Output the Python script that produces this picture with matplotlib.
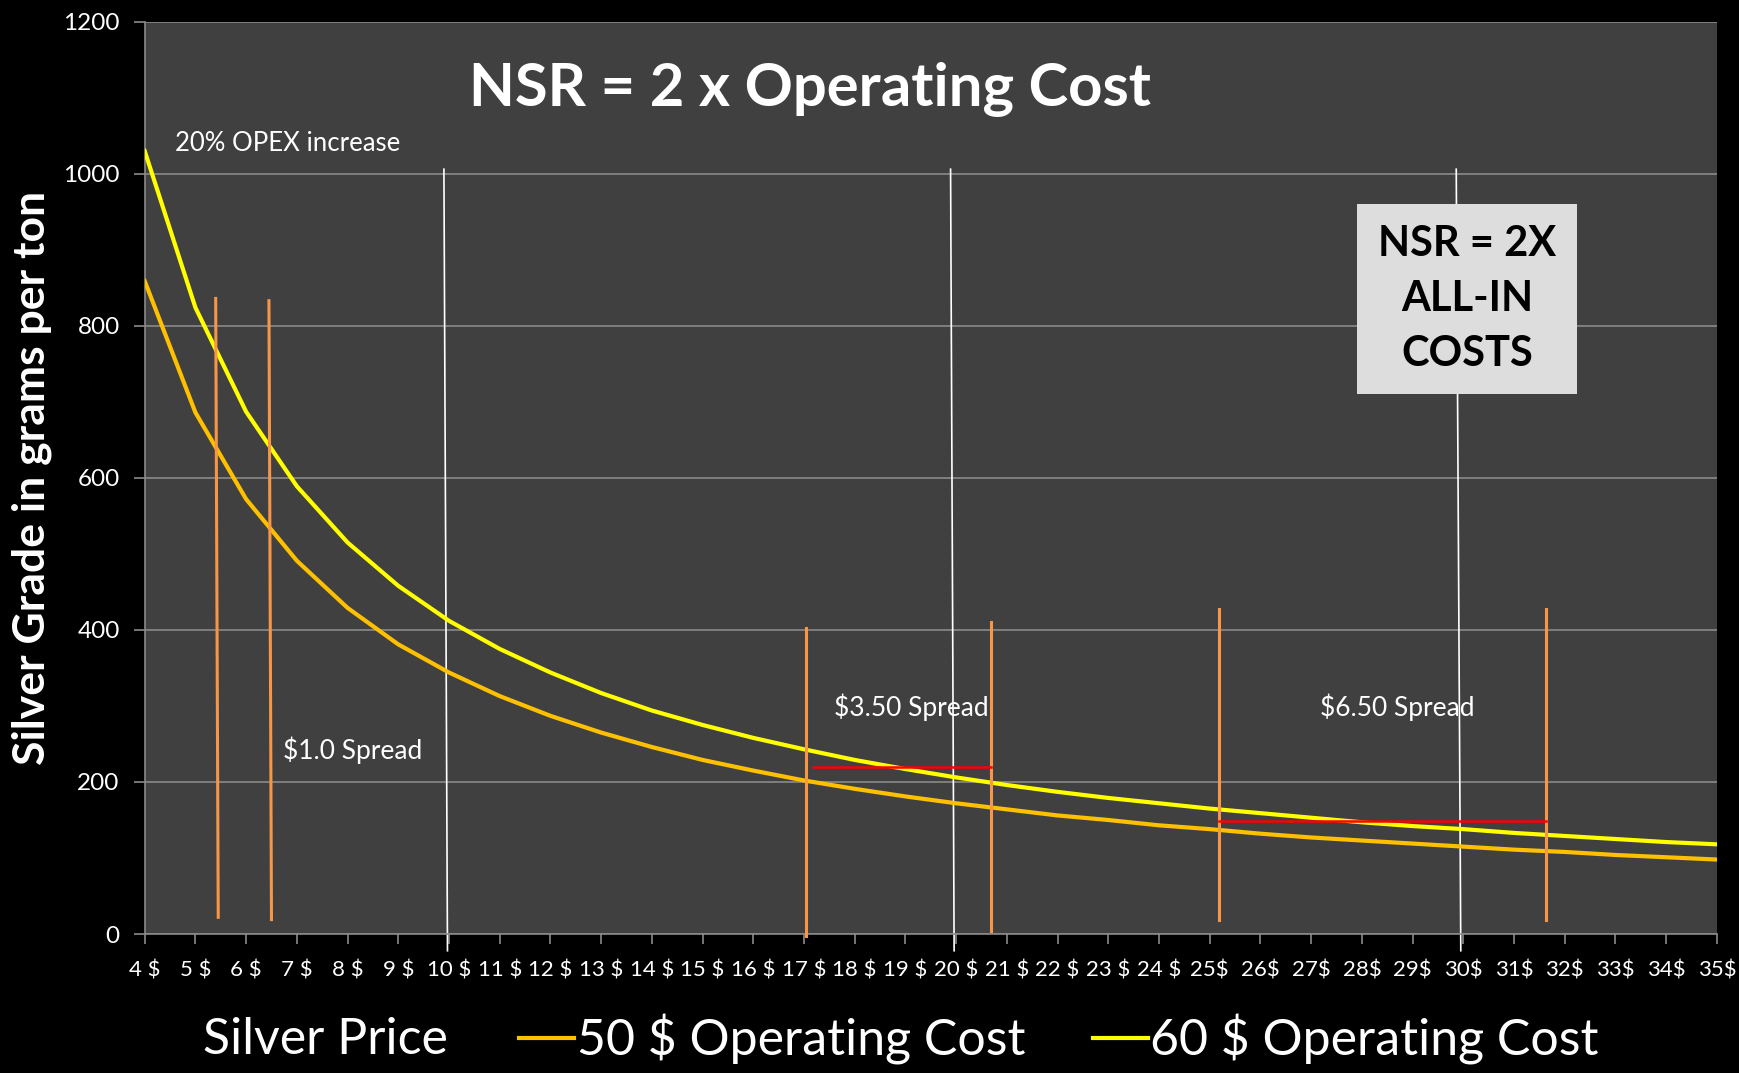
import matplotlib
matplotlib.use("Agg")
import matplotlib.pyplot as plt

plt.rcParams['font.family'] = ['Lato', 'DejaVu Sans']

# Silver price categories (x axis)
prices = list(range(4, 36))
price_labels = [f"{p} $" for p in range(4, 25)] + [f"{p}$" for p in range(25, 36)]

# grade (g/t) needed for NSR = 2 x operating cost
grade_50 = [859, 686, 572, 491, 429, 381, 344, 313, 287, 265, 246, 229, 215,
            202, 191, 181, 172, 164, 156, 150, 143, 138, 132, 127, 123, 119,
            115, 111, 108, 104, 101, 98]
grade_60 = [1030, 824, 687, 589, 515, 458, 412, 375, 344, 317, 294, 275, 258,
            243, 229, 217, 206, 196, 187, 179, 172, 165, 159, 153, 147, 142,
            138, 133, 129, 125, 121, 118]

# annotation lines drawn on the chart
white_x_top = [9.90, 19.89, 29.86]
white_x_bot = [9.97, 19.96, 29.95]
spread_x_top = [5.40, 6.45, 17.03, 20.68, 25.18, 31.63]
spread_x_bot = [5.45, 6.50, 17.03, 20.68, 25.18, 31.63]
spread_top = [836, 833, 403, 411, 427, 427]
spread_bot = [22, 19, -3, 4, 19, 19]
red_x0 = [17.18, 25.18]
red_x1 = [20.68, 31.63]
red_y = [220, 149]

fig = plt.figure(figsize=(17.39, 10.73), dpi=100, facecolor='black')
ax = fig.add_axes([0.0832, 0.1295, 0.9041, 0.8503])
ax.set_facecolor('#404040')

ax.set_xlim(4, 35)
ax.set_ylim(0, 1200)
ax.set_yticks(range(0, 1201, 200))
ax.grid(axis='y', color='#8a8a8a', linewidth=1.2)
ax.set_axisbelow(True)

for xt, xb in zip(white_x_top, white_x_bot):
    ax.plot([xt, xb], [1006, -22], color='white', lw=1.2, clip_on=False, zorder=2)

ax.plot(prices, grade_50, color='#FFC000', lw=3, label='50 $ Operating Cost', zorder=3)
ax.plot(prices, grade_60, color='#FFFF00', lw=3, label='60 $ Operating Cost', zorder=3)

for xt, xb, yt, yb in zip(spread_x_top, spread_x_bot, spread_top, spread_bot):
    ax.plot([xt, xb], [yt, yb], color='#F79646', lw=2.2, zorder=4, clip_on=False)
for x0, x1, y in zip(red_x0, red_x1, red_y):
    ax.plot([x0, x1], [y, y], color='#FF0000', lw=1.8, zorder=4)

ax.set_xticks(prices)
ax.set_xticklabels(price_labels)
ax.tick_params(axis='x', colors='#8a8a8a', labelcolor='white', labelsize=16,
               length=7, width=1.2, pad=12)
ax.tick_params(axis='y', colors='#8a8a8a', labelcolor='white', labelsize=17.5,
               length=8, width=1.2, pad=10)
for s in ['top', 'right']:
    ax.spines[s].set_visible(False)
for s in ['left', 'bottom']:
    ax.spines[s].set_color('#8a8a8a')
    ax.spines[s].set_linewidth(1.2)

ax.set_ylabel('Silver Grade in grams per ton', color='white', fontsize=32,
              fontweight='bold', labelpad=8)

ax.text(17.12, 1111, 'NSR = 2 x Operating Cost', color='white', fontsize=43,
        fontweight='bold', ha='center', va='center')
ax.text(4.59, 1040, '20% OPEX increase', color='white', fontsize=18.5, va='center')
ax.text(6.73, 242, '$1.0 Spread', color='white', fontsize=19, va='center')
ax.text(17.6, 298, '$3.50 Spread', color='white', fontsize=19, va='center')
ax.text(27.17, 298, '$6.50 Spread', color='white', fontsize=19, va='center')
ax.text(30.07, 835, 'NSR = 2X\nALL-IN\nCOSTS', color='black', fontsize=30,
        fontweight='bold', ha='center', va='center', linespacing=1.55,
        bbox=dict(boxstyle='square,pad=0.5', fc='#DDDDDD', ec='none'), zorder=5)

fig.text(0.117, 0.031, 'Silver Price', color='white', fontsize=36, va='center')
leg = fig.legend(loc='center left', bbox_to_anchor=(0.2985, 0.031), ncol=2,
                 frameon=False, fontsize=36, handlelength=1.1, borderpad=0,
                 borderaxespad=0, handletextpad=0.05, columnspacing=1.35,
                 labelcolor='white')
for h in leg.get_lines():
    h.set_linewidth(3)

fig.savefig('out.png', dpi=100, facecolor='black')
